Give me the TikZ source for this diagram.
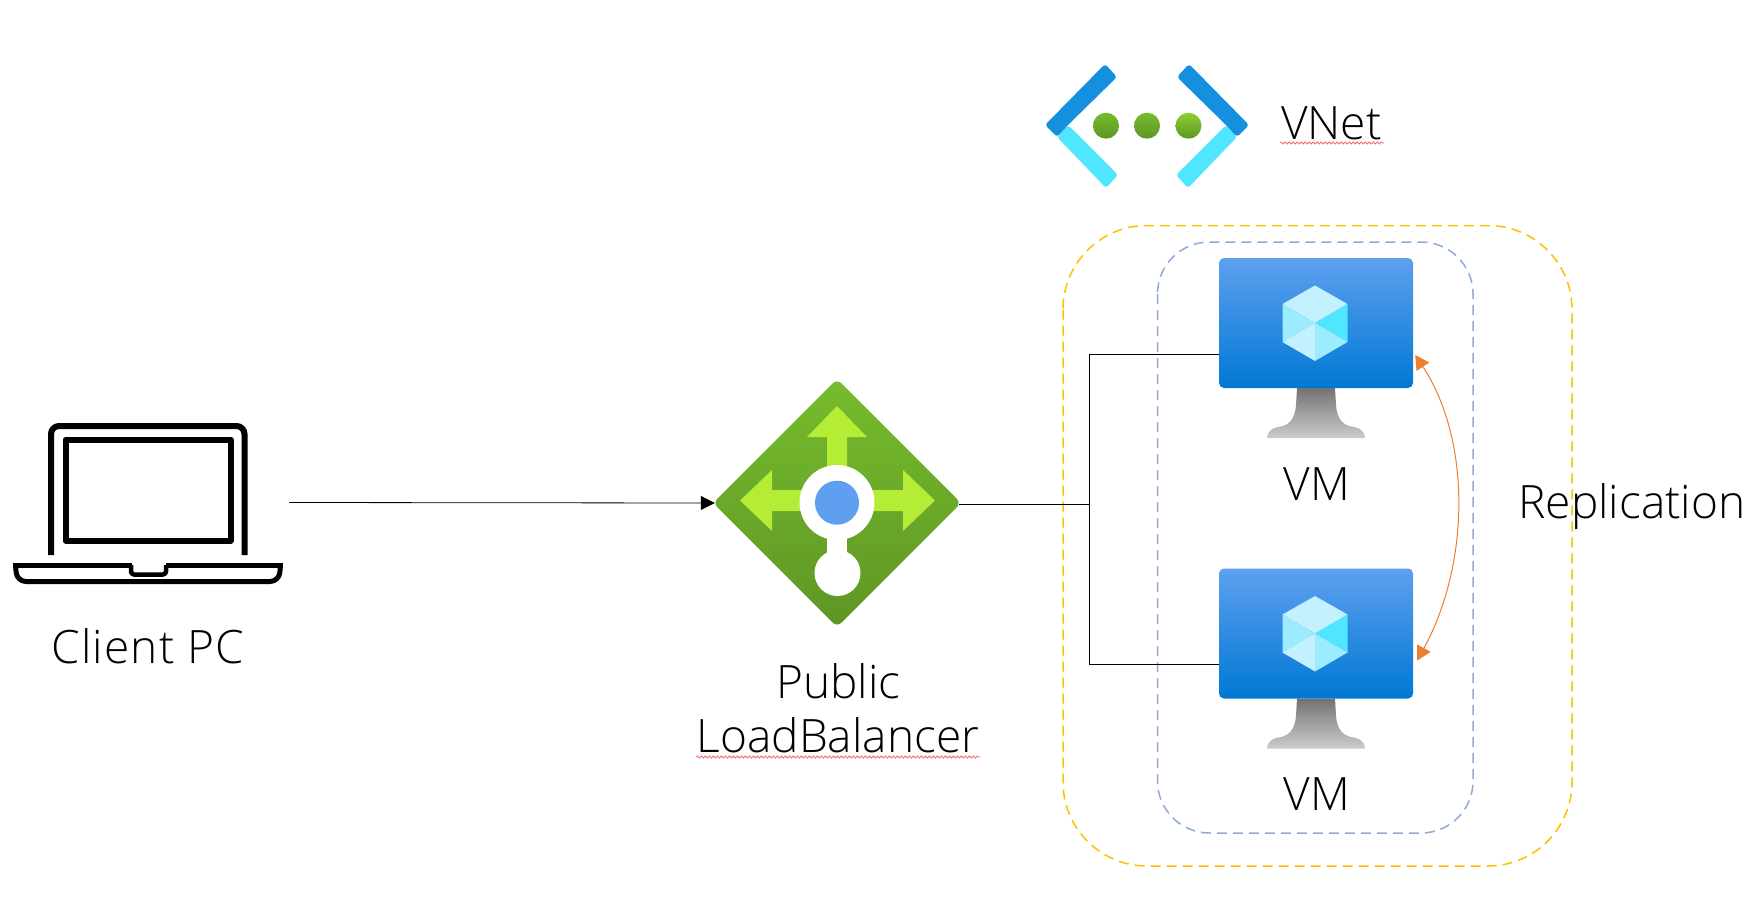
\documentclass[tikz,border=0pt]{standalone}
\usepackage{fontspec}
\setmainfont{Open Sans Light}
\usetikzlibrary{arrows.meta,calc,decorations.pathmorphing}
\definecolor{barblue}{HTML}{1490DF}
\definecolor{barcyan}{HTML}{50E6FF}
\definecolor{lime}{HTML}{B4EC36}
\definecolor{lbtop}{HTML}{76BC2D}
\definecolor{lbbot}{HTML}{5E9624}
\definecolor{vmtop}{HTML}{5EA0EF}
\definecolor{vmbot}{HTML}{0078D4}
\definecolor{dotblue}{HTML}{5EA0EF}
\definecolor{groupblue}{HTML}{8FAADC}
\definecolor{grouporange}{HTML}{FFC000}
\definecolor{repl}{HTML}{ED7D31}
\definecolor{squig}{HTML}{F4696B}
\definecolor{cubea}{HTML}{C3F1FF}
\definecolor{cubeb}{HTML}{9CEBFF}
\tikzset{
  x=1pt,y=-1pt,
  label text/.style={font=\fontsize{46}{54}\selectfont,text=black,inner sep=0pt,anchor=base},
  group box/.style={line width=1.5pt,dash pattern=on 10pt off 6pt,rounded corners=#1},
  link/.style={line width=1pt,black},
  vm screen/.style={shade,top color=vmtop,bottom color=vmbot,rounded corners=5pt,minimum width=194pt,minimum height=130pt,inner sep=0pt},
  anchor box/.style={inner sep=0pt,minimum width=#1},
  squiggle/.style={draw=squig,line width=0.8pt,decorate,decoration={snake,segment length=4pt,amplitude=1pt}},
  laptop line/.style={line width=6pt,black,line join=round},
}
\newcommand{\vmicon}[3]{% name, x, y of screen centre
  \node[vm screen] (#1) at (#2,#3) {};
  \begin{scope}[shift={(#2,#3)}]
    \shade[top color=black!55,bottom color=black!20]
      (-19,65) -- (19,65) -- (20,82) .. controls (21,97) and (28,103) .. (38,104)
      .. controls (45,105) and (49,110) .. (49,115) -- (-49,115)
      .. controls (-49,110) and (-45,105) .. (-38,104)
      .. controls (-28,103) and (-21,97) .. (-20,82) -- cycle;
    \fill[cubea] (-1,-37.5) -- (31.5,-19) -- (-1,0) -- (-33.5,-19) -- cycle;
    \fill[cubeb] (-33.5,-19) -- (-1,0) -- (-33.5,19) -- cycle;
    \fill[barcyan] (31.5,-19) -- (-1,0) -- (31.5,19) -- cycle;
    \fill[cubea] (-33.5,19) -- (-1,0) -- (-1,38) -- cycle;
    \fill[cubeb] (31.5,19) -- (-1,0) -- (-1,38) -- cycle;
  \end{scope}
}
\begin{document}
\begin{tikzpicture}
\useasboundingbox (0,0) rectangle (1764,918);
\fill[white] (0,0) rectangle (1764,918);

% laptop
\node[anchor box=276pt] (client) at (151,502.5) {};
\draw[laptop line,rounded corners=8pt] (51,555) -- (51,426) -- (244.5,426) -- (244.5,555);
\draw[laptop line] (65.5,439.5) rectangle (230.5,540.5);
\draw[laptop line,line width=5pt,rounded corners=9pt]
  (15.5,565.5) -- (17,581.5) -- (279,581.5) -- (280.5,565.5);
\draw[laptop line,line width=5pt] (13,565.5) -- (132,565.5);
\draw[laptop line,line width=5pt] (166,565.5) -- (283,565.5);
\draw[laptop line,line width=4.5pt,rounded corners=3pt] (131,565) -- (131,574.5) -- (166,574.5) -- (166,565);
\node[label text] (clientlabel) at (148,663) {\addfontfeature{LetterSpace=2.5}Client PC};

% groups
\draw[group box=84pt,grouporange] (1063,225.5) rectangle (1572,866);
\draw[group box=52pt,groupblue] (1157.5,242) rectangle (1473,833);

% load balancer
\node[anchor box=244pt,minimum height=244pt] (lb) at (837,503) {};
\shade[top color=lbtop,bottom color=lbbot,rounded corners=6pt]
  (837,379) -- (961,503) -- (837,627) -- (713,503) -- cycle;
\fill[lime] (837,406) -- (867,437) -- (847,437) -- (847,490) -- (827,490) -- (827,437) -- (807,437) -- cycle;
\fill[lime] (740,500.5) -- (772,470) -- (772,490) -- (825,490) -- (825,511) -- (772,511) -- (772,531) -- cycle;
\fill[lime] (935,500.5) -- (903,470) -- (903,490) -- (850,490) -- (850,511) -- (903,511) -- (903,531) -- cycle;
\fill[white] (837,502.5) circle (37.5);
\fill[white] (827,530) rectangle (847,560);
\fill[white] (837.5,573) circle (23);
\fill[dotblue] (837,502.7) circle (22);

% vnet icon
\fill[barcyan,rounded corners=3pt] (1057,137) -- (1068,125) -- (1118,175) -- (1106,188) -- cycle;
\fill[barcyan,rounded corners=3pt] (1237,137) -- (1226,125) -- (1176,175) -- (1188,188) -- cycle;
\fill[barblue,rounded corners=3pt] (1057,137) -- (1045,125) -- (1105,64) -- (1117,77) -- (1068,125) -- cycle;
\fill[barblue,rounded corners=3pt] (1237,137) -- (1249,125) -- (1189,64) -- (1177,77) -- (1226,125) -- cycle;
\shade[top color=lbtop,bottom color=lbbot] (1106,125.7) circle (13);
\shade[top color=lbtop,bottom color=lbbot] (1147,125.7) circle (13);
\shade[top color=lbtop!60!lime,bottom color=lbbot] (1188.5,125.7) circle (13);
\node[label text,anchor=base west] (vnet) at (1281,139) {VNet};
\path[squiggle] (1280,143) -- (1384,143);

% VMs
\vmicon{vm1}{1316}{323}
\vmicon{vm2}{1316}{633.5}
\node[label text] (vm1label) at (1317,500) {VM};
\node[label text] (vm2label) at (1317,810) {VM};

% labels
\node[label text] (lblabel1) at (838.5,698.5) {Public};
\node[label text] (lblabel2) at (838,752) {LoadBalancer};
\path[squiggle] (696,757) -- (980,757);
\node[label text] (repl) at (1632,518) {Replication};

% connectors
\coordinate (bus) at (1089.5,504);
\draw[-{Triangle[length=14pt,width=14pt]},line width=0.8pt] (client.east) -- (lb.west);
\draw[link] ([yshift=-1pt]lb.east) -- (bus);
\draw[link] (bus) |- ([yshift=-31pt]vm1.west);
\draw[link] (bus) |- ([yshift=-31pt]vm2.west);
\draw[repl,line width=1pt,{Triangle[length=14pt,width=15pt]}-{Triangle[length=14pt,width=15pt]}]
  ([shift={(2pt,-32pt)}]vm1.east) .. controls +(56,85) and +(53,-97) .. ([shift={(4pt,-27pt)}]vm2.east);
\end{tikzpicture}
\end{document}
